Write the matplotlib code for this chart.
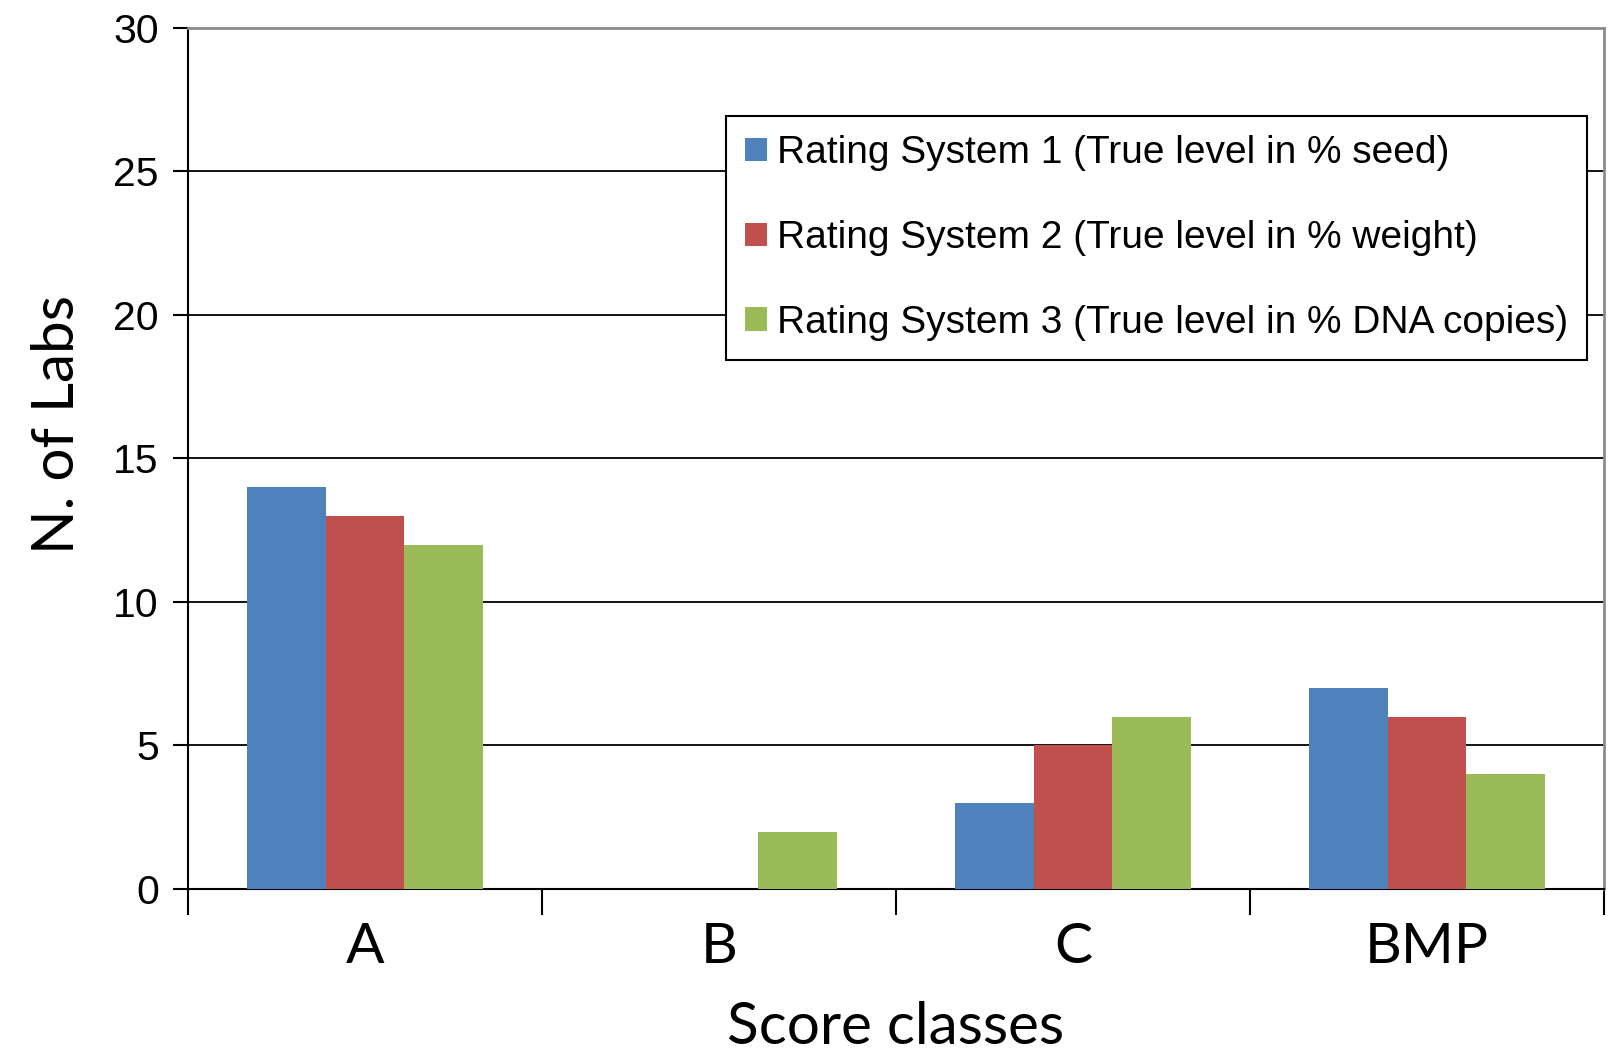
import matplotlib.pyplot as plt
import numpy as np
from matplotlib.patches import Patch

categories = ["A", "B", "C", "BMP"]
series_names = ["Rating System 1 (True level in % seed)",
                "Rating System 2 (True level in % weight)",
                "Rating System 3 (True level in % DNA copies)"]
system1 = [14, 0, 3, 7]
system2 = [13, 0, 5, 6]
system3 = [12, 2, 6, 4]
colors = ["#4F81BD", "#C0504D", "#9BBB59"]

fig = plt.figure(figsize=(16.14, 10.52), dpi=100)
ax = fig.add_axes([0.1165, 0.155, 0.8773, 0.8184])

x = np.arange(len(categories))
w = 2 / 9
for i, vals in enumerate([system1, system2, system3]):
    ax.bar(x + (i - 1) * w, vals, w, color=colors[i], edgecolor="none", zorder=3)

ax.set_xlim(-0.5, 3.5)
ax.set_ylim(0, 30)
ax.set_yticks(range(0, 31, 5))
ax.yaxis.grid(True, color="black", linewidth=1.3, zorder=0)
ax.set_axisbelow(True)

# category labels between boundary ticks
ax.set_xticks(np.arange(-0.5, 4, 1))
ax.set_xticklabels([])
ax.set_xticks(x, minor=True)
ax.set_xticklabels(categories, minor=True, fontsize=41, family="Lato")
ax.tick_params(axis="x", which="minor", length=0, pad=24)
ax.tick_params(axis="x", which="major", length=19, width=1.5, direction="out")
ax.tick_params(axis="y", length=11, width=1.5, pad=10, labelsize=29.5)
for lbl in ax.get_yticklabels():
    lbl.set_family("Liberation Sans")

for s in ["left", "bottom"]:
    ax.spines[s].set_color("black")
    ax.spines[s].set_linewidth(1.5)
for s in ["top", "right"]:
    ax.spines[s].set_color("#8c8c8c")
    ax.spines[s].set_linewidth(2)

fig.text(0.5 * (188 + 1604) / 1614, 1 - 1027 / 1052, "Score classes",
         fontsize=42, family="Lato", ha="center", va="center")
fig.text(58 / 1614, 1 - 424 / 1052, "N. of Labs", rotation=90,
         fontsize=42, family="Lato", ha="center", va="center")

handles = [Patch(facecolor=c, edgecolor="none") for c in colors]
leg = ax.legend(handles, series_names, loc="upper left",
                bbox_to_anchor=(726 / 1614, 1 - 116 / 1052), bbox_transform=fig.transFigure,
                prop={"family": "Liberation Sans", "size": 28},
                frameon=True, fancybox=False, edgecolor="black", framealpha=1,
                handlelength=0.55, handleheight=0.55, handletextpad=0.25,
                labelspacing=1.25, borderpad=0.5, borderaxespad=0)
leg.get_frame().set_linewidth(1.5)

fig.savefig("out.png", dpi=100)
